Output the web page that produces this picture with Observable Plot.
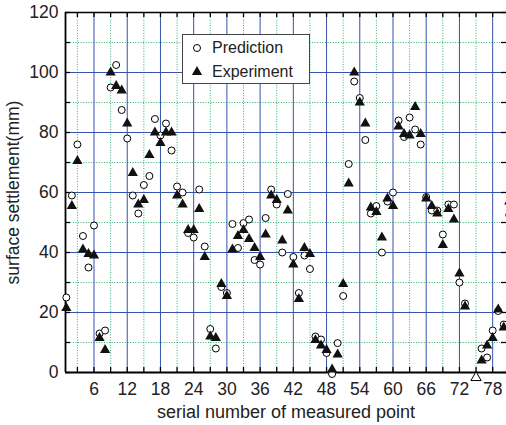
<!DOCTYPE html>
<html>
<head>
<meta charset="utf-8">
<script src="https://cdn.jsdelivr.net/npm/d3@7"></script>
<script src="https://cdn.jsdelivr.net/npm/@observablehq/plot@0.6"></script>
<style>
  body { margin: 0; background: #fff; font-family: "Liberation Sans", Arial, Helvetica, sans-serif; }
  #wrap { position: relative; width: 506px; height: 425px; overflow: hidden; }
  #legend { position: absolute; left: 182px; top: 34px; width: 128px; height: 50px; box-sizing: border-box;
            border: 1px solid #444; background: #fff; color: #222; font-size: 16px; }
  #legend .row { position: absolute; left: 0; height: 20px; line-height: 20px; display: flex; align-items: center; white-space: nowrap; }
  #legend svg { margin-left: 8px; margin-right: 9px; }
</style>
</head>
<body>
<div id="wrap">
  <div id="chart"></div>
  <div id="legend"></div>
</div>
<script>
// ---- data ----
const prediction = [
  25, 59, 76, 45.5, 35, 49, 13, 14, 95, 102.5,
  87.5, 78, 59, 53, 62.5, 65.5, 84.5, 79, 83, 74,
  62, 60, 46.5, 45, 61, 42, 14.5, 8, 28.5, 26.5,
  49.5, 41.5, 49.8, 51, 37.5, 36, 51.5, 61, 56, 40,
  59.5, 38.5, 26.5, 39, 34.5, 12, 11, 6.5, -0.5, 9.8,
  25.5, 69.5, 97, 91.5, 77.5, 53, 55.5, 40, 57, 60,
  84, 78.5, 85, 81, 76, 58.5, 54, 54, 46, 56,
  56, 30, 23, null, null, 8, 5, 14, 20.5, 16,
  52.5
];
const experiment = [
  21.5, 55.5, 70.5, 41, 39.5, 39, 11.5, 7.5, 100, 95.5,
  94, 83, 66.5, 56, 57.5, 72.5, 80, 76.5, 80, 80,
  59, 56, 47.5, 47.5, 54.5, 38.5, 12, 11.5, 29.5, 25.5,
  41, 45.5, 47.5, 44.5, 41.5, 38.5, 46, 59, 57.5, 44,
  54, 36, 24.5, 41.5, 39.5, 10.8, 9, 7.5, 1, 6,
  29.5, 63, 100, 90, 83, 55, 53.5, 45, 58, 55.5,
  82, 79.5, 79, 88.5, 79.5, 58, 55.5, 53, 42.5, 54.5,
  51, 33, 22, null, null, 4, 9, 11.5, 21, 15,
  57
];
const hollowPoint = [{ serial: 75, value: -1.7 }];
const xTickLabels = [6, 12, 18, 24, 30, 36, 42, 48, 54, 60, 66, 72, 78];
const xMinorTicks = [3, 6, 9, 12, 15, 18, 21, 24, 27, 30, 33, 36, 39, 42, 45, 48, 51, 54, 57, 60, 63, 66, 69, 72, 75, 78];
const xBlueGrid = [6, 12, 18, 24, 30, 36, 42, 48, 54, 60, 66, 72, 78];
const xGreenGrid = [3, 9, 15, 21, 27, 33, 39, 45, 51, 57, 63, 69, 75];
const yTicks = [0, 10, 20, 30, 40, 50, 60, 70, 80, 90, 100, 110, 120];
const yTickLabels = [0, 20, 40, 60, 80, 100, 120];
const yBlueGrid = [20, 40, 60, 80, 100];
const yGreenGrid = [10, 30, 50, 70, 90, 110];
const xTitle = "serial number of measured point";
const yTitle = "surface settlement(mm)";
const seriesNames = ["Prediction", "Experiment"];

const rows = prediction.map((p, i) => ({ serial: i + 1, prediction: p, experiment: experiment[i] }));
const xDomain = [0.85, 80.5];
const yDomain = [0, 120];

const blue = "#3553ad";
const green = "#2fb36f";

const chart = Plot.plot({
  width: 506,
  height: 425,
  marginLeft: 65,
  marginRight: 0,
  marginTop: 12,
  marginBottom: 53,
  x: { domain: xDomain },
  y: { domain: yDomain },
  style: { fontFamily: '"Liberation Sans", Arial, Helvetica, sans-serif', color: "#222", background: "white", overflow: "hidden" },
  marks: [
    Plot.ruleX(xGreenGrid, { x: d => d, stroke: green, strokeWidth: 1, strokeDasharray: "1,1.6" }),
    Plot.ruleY(yGreenGrid, { y: d => d, stroke: green, strokeWidth: 1, strokeDasharray: "1,1.6" }),
    Plot.ruleX(xBlueGrid, { x: d => d, stroke: blue, strokeWidth: 1 }),
    Plot.ruleY(yBlueGrid, { y: d => d, stroke: blue, strokeWidth: 1 }),
    Plot.ruleY([yDomain[0]], { stroke: "black", strokeWidth: 1.8 }),
    Plot.ruleY([yDomain[1]], { stroke: "black", strokeWidth: 1.5 }),
    Plot.ruleX([xDomain[0]], { stroke: "black", strokeWidth: 1.8 }),
    Plot.tickX(xMinorTicks, { x: d => d, insetTop: 355, stroke: "black", strokeWidth: 1.3 }),
    Plot.tickX(xMinorTicks, { x: d => d, insetBottom: 355, stroke: "black", strokeWidth: 1.3 }),
    Plot.tickY(yTicks, { y: d => d, insetRight: 436, stroke: "black", strokeWidth: 1.3 }),
    Plot.tickY(yTicks, { y: d => d, insetLeft: 436, stroke: "black", strokeWidth: 1.3 }),
    Plot.axisX(xTickLabels, { tickSize: 0, tickPadding: 10, fontSize: 17.5, label: null }),
    Plot.axisY(yTickLabels, { tickSize: 0, tickPadding: 7, fontSize: 17.5, label: null }),
    Plot.text([xTitle], { text: d => d, frameAnchor: "bottom", textAnchor: "middle", lineAnchor: "middle", dy: 39.5, fontSize: 18 }),
    Plot.text([yTitle], { text: d => d, frameAnchor: "left", textAnchor: "middle", lineAnchor: "middle", dx: -52, rotate: -90, fontSize: 17.5 }),
    Plot.dot(rows, { x: "serial", y: "prediction", r: 3.5, fill: "white", stroke: "black", strokeWidth: 1 }),
    Plot.dot(rows, { x: "serial", y: "experiment", symbol: "triangle", r: 3.8, fill: "#111", stroke: "none" }),
    Plot.dot(hollowPoint, { x: "serial", y: "value", symbol: "triangle", r: 3.8, fill: "white", stroke: "black", strokeWidth: 1 })
  ]
});
document.getElementById("chart").appendChild(chart);

// legend (inside the plot frame)
const legend = document.getElementById("legend");
const icons = [
  '<svg width="12" height="12" viewBox="-6 -6 12 12"><circle r="3.5" fill="white" stroke="black" stroke-width="1"/></svg>',
  '<svg width="12" height="12" viewBox="-6 -6 12 12"><path d="' + d3.symbol(d3.symbolTriangle, Math.PI * 3.8 * 3.8)() + '" fill="#111"/></svg>'
];
const rowTops = [2.7, 27];
seriesNames.forEach((name, i) => {
  const row = document.createElement("div");
  row.className = "row";
  row.style.top = rowTops[i] + "px";
  row.innerHTML = icons[i] + "<span>" + name + "</span>";
  legend.appendChild(row);
});
</script>
</body>
</html>
